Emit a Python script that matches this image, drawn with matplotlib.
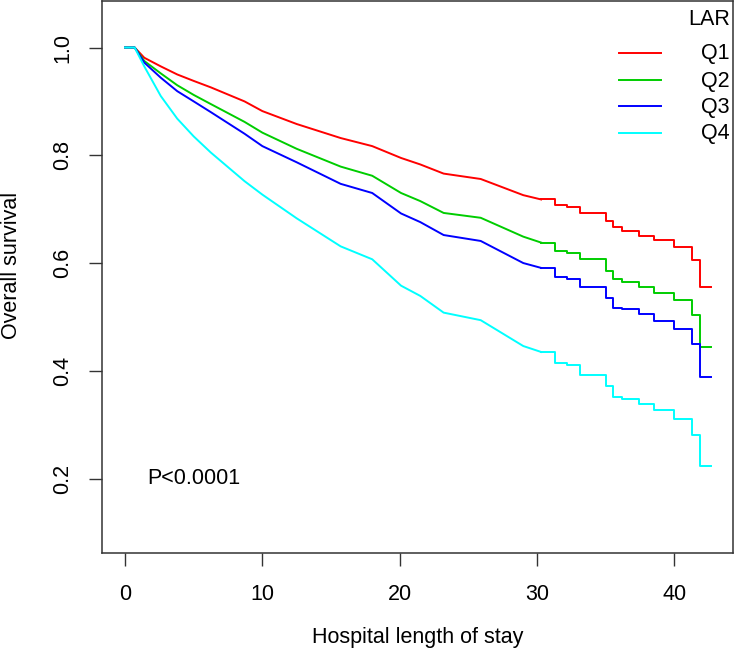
import matplotlib
matplotlib.use("Agg")
import matplotlib.pyplot as plt
from matplotlib.lines import Line2D

plt.rcParams['font.family'] = ['Liberation Sans', 'DejaVu Sans']

groups = ["Q1", "Q2", "Q3", "Q4"]
colors = ["#FF0000", "#00CD00", "#0000FF", "#00FFFF"]

# smooth (dense-event) part of the KM curves
times_early = [0, 0.7, 1.4, 2.6, 3.8, 5.0, 6.25, 8.7, 10.0, 12.5, 15.7, 18.0,
               20.1, 21.5, 23.2, 25.9, 29.0, 30.3]
surv_early = {
    "Q1": [1.0, 1.0, 0.981, 0.965, 0.950, 0.938, 0.926, 0.900, 0.882, 0.858, 0.832, 0.817,
           0.795, 0.783, 0.766, 0.756, 0.726, 0.718],
    "Q2": [1.0, 1.0, 0.975, 0.952, 0.930, 0.912, 0.895, 0.862, 0.842, 0.812, 0.779, 0.762,
           0.730, 0.715, 0.693, 0.684, 0.649, 0.638],
    "Q3": [1.0, 1.0, 0.972, 0.944, 0.919, 0.900, 0.880, 0.840, 0.817, 0.787, 0.747, 0.730,
           0.692, 0.676, 0.652, 0.641, 0.600, 0.591],
    "Q4": [1.0, 1.0, 0.965, 0.910, 0.868, 0.835, 0.805, 0.752, 0.727, 0.683, 0.631, 0.607,
           0.558, 0.539, 0.508, 0.494, 0.446, 0.435],
}

# sparse-event (stepped) tail
times_late = [30.3, 31.3, 32.2, 33.1, 35.0, 35.5, 36.2, 37.4, 38.5, 40.0, 41.3, 41.85, 42.7]
surv_late = {
    "Q1": [0.718, 0.707, 0.704, 0.693, 0.678, 0.666, 0.660, 0.651, 0.643, 0.630, 0.605, 0.555, 0.555],
    "Q2": [0.638, 0.622, 0.619, 0.607, 0.585, 0.570, 0.565, 0.556, 0.545, 0.531, 0.503, 0.445, 0.445],
    "Q3": [0.591, 0.575, 0.571, 0.556, 0.535, 0.516, 0.514, 0.505, 0.492, 0.478, 0.449, 0.389, 0.389],
    "Q4": [0.435, 0.415, 0.411, 0.393, 0.372, 0.352, 0.348, 0.338, 0.327, 0.310, 0.281, 0.223, 0.223],
}

x_ticks = [0, 10, 20, 30, 40]
y_ticks = [0.2, 0.4, 0.6, 0.8, 1.0]

W, H = 735, 659
fig = plt.figure(figsize=(W / 100, H / 100), dpi=100)
ax = fig.add_axes([101.7 / W, 1 - 552.7 / H, (732.7 - 101.7) / W, (552.7 - 1) / H])

FS = 15.5
LW = 1.4
for g, c in zip(groups, colors):
    ax.plot(times_early, surv_early[g], color=c, lw=LW)
    ax.step(times_late, surv_late[g], where='post', color=c, lw=LW)

ax.set_xlim(-1.7, 44.25)
ax.set_ylim(0.0625, 1.0863)
ax.set_xticks(x_ticks)
ax.set_xticklabels([str(v) for v in x_ticks])
ax.set_yticks(y_ticks)
ax.set_yticklabels([f"{v:.1f}" for v in y_ticks], rotation=90, va='center')
ax.tick_params(direction='out', length=9.4, width=1.0, color='#333333', labelsize=FS)
ax.tick_params(axis='x', pad=13)
ax.tick_params(axis='y', pad=11)
for s in ax.spines.values():
    s.set_linewidth(1.1)
    s.set_color('#333333')

ax.set_xlabel("Hospital length of stay", fontsize=FS, va='center')
ax.xaxis.set_label_coords(0.5, (552.7 - 638) / 551.7)
ax.set_ylabel("Overall survival", fontsize=FS, va='center')
ax.yaxis.set_label_coords((12 - 101.7) / 631, 0.52)

ax.text(5, 0.2, "P<0.0001", fontsize=FS, ha='center', va='center')

# legend drawn in R style (title and labels right-aligned)
def fy(py):
    return 1 - py / H

fig.text(730 / W, fy(19.5), "LAR", fontsize=FS, ha='right', va='center')
rows = [52.7, 80.0, 106.3, 133.0]
for g, c, ry in zip(groups, colors, rows):
    fig.add_artist(Line2D([619.3 / W, 660.7 / W], [fy(ry), fy(ry)], color=c, lw=LW,
                          transform=fig.transFigure))
    fig.text(730 / W, fy(ry + 1), g, fontsize=FS, ha='right', va='center')

fig.savefig("out.png", dpi=100)
